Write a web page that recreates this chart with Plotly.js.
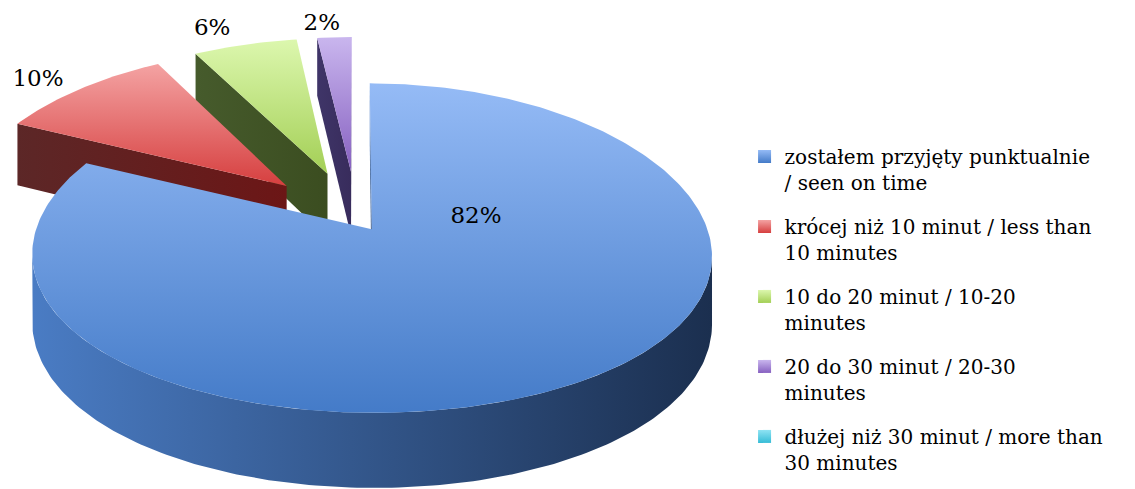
<!DOCTYPE html>
<html><head><meta charset="utf-8">
<script src="https://cdn.plot.ly/plotly-3.0.1.min.js"></script>
<style>html,body{margin:0;padding:0;background:#fff;}#chart{width:1135px;height:489px;}</style>
</head><body><div id="chart"></div>
<script>
// ---- data ----
const categories = [
  "zostałem przyjęty punktualnie<br>/ seen on time",
  "krócej niż 10 minut / less than<br>10 minutes",
  "10 do 20 minut / 10-20<br>minutes",
  "20 do 30 minut / 20-30<br>minutes",
  "dłużej niż 30 minut / more than<br>30 minutes"
];
const values = [82, 10, 6, 2, 0];

// ---- style ----
const topLight  = ['#95bbf6', '#f4a3a3', '#dcf7ae', '#c9b6ee', '#8fe3f3'];
const topDark   = ['#447bc8', '#d63f3f', '#a3cf55', '#8660c0', '#36bcd6'];
const sideLight = ['#4a7cc4', '#5c2727', '#465b2c', '#3f3568', '#2a8ea0'];
const sideDark  = ['#1b2f4f', '#6c1616', '#3b4d20', '#382c5c', '#1f6b78'];
const explode   = [0.082, 0.3, 0.3, 0.3, 0.3];
const labelRadius = [0.36, 1.47, 1.48, 1.43, 1.45];
const labelShift  = [-60.6, -2, -3, -1.6, 0];
const G = {cx: 357, cy: 218, A: 332, B: 160, T: 66, q: 0.156, p: 0.114};
const FONT = "DejaVu Serif, Liberation Serif, serif";

const rad = d => d * Math.PI / 180;
function proj(u, v, bottom) {
  const wx = 1 + G.q * v, wy = 1 + G.p * v;
  return [G.cx + G.A * u / wx, G.cy + (-G.B * v + (bottom ? G.T : 0)) / wy];
}
const cam = [0, -1 / G.q];

function polyTrace(pts, light, dark, orient, grp) {
  const xs = pts.map(p => p[0]), ys = pts.map(p => p[1]);
  const arr = orient === 'vertical' ? ys : xs;
  return {
    type: 'scatter', mode: 'lines', x: xs, y: ys, fill: 'toself',
    fillcolor: light, line: {width: 0, color: 'rgba(0,0,0,0)'},
    fillgradient: {type: orient, colorscale: [[0, light], [1, dark]],
                   start: Math.min(...arr), stop: Math.max(...arr)},
    hoverinfo: 'skip', showlegend: false, legendgroup: grp
  };
}

const total = values.reduce((a, b) => a + b, 0);
const slices = [];
let cum = 0;
values.forEach((v, i) => {
  const a = 360 * cum / total; cum += v;
  const b = 360 * cum / total;
  const m = (a + b) / 2;
  const e = explode[i];
  slices.push({i, a, b, m, ou: e * Math.sin(rad(m)), ov: e * Math.cos(rad(m))});
});

const shapeTraces = [];
const order = slices.filter(s => s.b > s.a).sort((s1, s2) => s2.ov - s1.ov);
order.forEach(s => {
  const grp = 'g' + s.i;
  const ring = (th) => [s.ou + Math.sin(rad(th)), s.ov + Math.cos(rad(th))];
  const n = Math.max(2, Math.ceil((s.b - s.a) / 1));
  const arc = [];
  for (let k = 0; k <= n; k++) arc.push(s.a + (s.b - s.a) * k / n);
  const toCam = (P) => [cam[0] - P[0], cam[1] - P[1]];
  const nA = [-Math.cos(rad(s.a)), Math.sin(rad(s.a))];
  const tc = toCam([s.ou, s.ov]);
  if (nA[0] * tc[0] + nA[1] * tc[1] > 0) {
    const c = ring(s.a);
    shapeTraces.push(polyTrace([proj(s.ou, s.ov, 0), proj(c[0], c[1], 0), proj(c[0], c[1], 1), proj(s.ou, s.ov, 1)],
      sideLight[s.i], sideDark[s.i], 'horizontal', grp));
  }
  const nB = [Math.cos(rad(s.b)), -Math.sin(rad(s.b))];
  if (nB[0] * tc[0] + nB[1] * tc[1] > 0) {
    const c = ring(s.b);
    shapeTraces.push(polyTrace([proj(s.ou, s.ov, 0), proj(c[0], c[1], 0), proj(c[0], c[1], 1), proj(s.ou, s.ov, 1)],
      sideLight[s.i], sideDark[s.i], 'horizontal', grp));
  }
  const vis = arc.filter(th => {
    const P = ring(th), t = toCam(P);
    return Math.sin(rad(th)) * t[0] + Math.cos(rad(th)) * t[1] > 0;
  });
  if (vis.length > 1) {
    const topPts = vis.map(th => { const P = ring(th); return proj(P[0], P[1], 0); });
    const botPts = vis.slice().reverse().map(th => { const P = ring(th); return proj(P[0], P[1], 1); });
    shapeTraces.push(polyTrace(topPts.concat(botPts), sideLight[s.i], sideDark[s.i], 'horizontal', grp));
  }
  const topFace = [proj(s.ou, s.ov, 0)].concat(arc.map(th => { const P = ring(th); return proj(P[0], P[1], 0); }));
  shapeTraces.push(polyTrace(topFace, topLight[s.i], topDark[s.i], 'vertical', grp));
});

// labels
const lx = [], ly = [], lt = [];
slices.forEach(s => {
  if (values[s.i] <= 0) return;
  const th = s.m + labelShift[s.i];
  const P = proj(labelRadius[s.i] * Math.sin(rad(th)), labelRadius[s.i] * Math.cos(rad(th)), 0);
  lx.push(P[0]); ly.push(P[1] + 2);
  lt.push(Math.round(values[s.i] / total * 100) + '%');
});
const labelTrace = {type: 'scatter', mode: 'text', x: lx, y: ly, text: lt,
  textposition: 'middle center', textfont: {family: FONT, size: 23, color: '#000'},
  hoverinfo: 'skip', showlegend: false, cliponaxis: false};

const legendTraces = categories.map((c, i) => ({
  type: 'scatter', mode: 'markers', x: [null], y: [null], name: c,
  legendgroup: 'g' + i, showlegend: true, hoverinfo: 'skip',
  marker: {symbol: 'square', size: 13, color: topLight[i], line: {width: 0},
           gradient: {type: 'vertical', color: topDark[i]}}
}));

const layout = {
  width: 1135, height: 489, margin: {l: 0, r: 0, t: 0, b: 0},
  paper_bgcolor: '#fff', plot_bgcolor: '#fff',
  xaxis: {range: [0, 1135], visible: false, fixedrange: true},
  yaxis: {range: [489, 0], visible: false, fixedrange: true},
  showlegend: true,
  legend: {x: 0.656, y: 0.72, xanchor: 'left', yanchor: 'top', valign: 'top',
           traceorder: 'grouped', tracegroupgap: 15, itemwidth: 30,
           font: {family: FONT, size: 20, color: '#000'}, bgcolor: 'rgba(0,0,0,0)'},
  font: {family: FONT}
};

Plotly.newPlot('chart', shapeTraces.concat([labelTrace]).concat(legendTraces), layout, {staticPlot: true});
</script></body></html>
